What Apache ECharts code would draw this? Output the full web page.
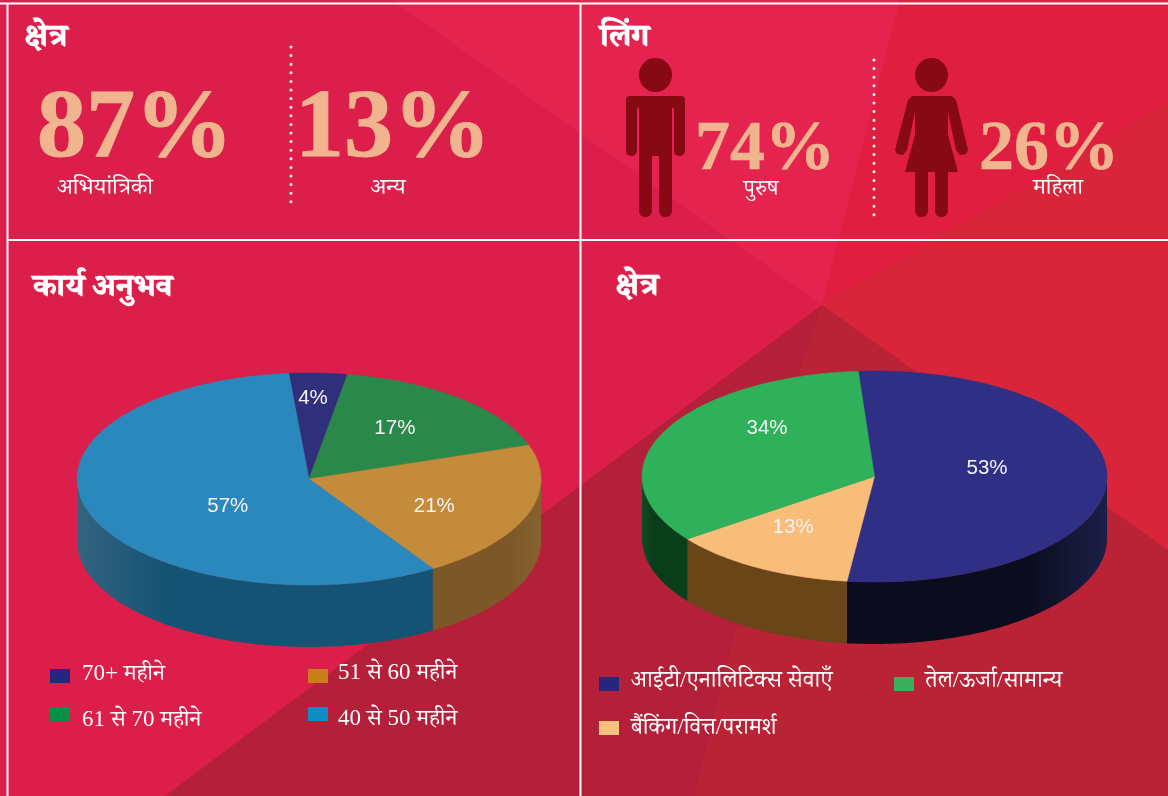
<!DOCTYPE html>
<html>
<head>
<meta charset="utf-8">
<style>html,body{margin:0;padding:0;background:#dc1f4a}#main{width:1168px;height:796px}</style>
<script src="https://cdn.jsdelivr.net/npm/echarts@6/dist/echarts.min.js"></script>
</head>
<body>
<div id="main"></div>
<script>
// chart values
const workLabels = ["70+ महीने", "61 से 70 महीने", "51 से 60 महीने", "40 से 50 महीने"];
const workValues = [4, 17, 21, 57];
const sectorLabels = ["आईटी/एनालिटिक्स सेवाएँ", "बैंकिंग/वित्त/परामर्श", "तेल/ऊर्जा/सामान्य"];
const sectorValues = [53, 13, 34];
const fieldLabels = ["अभियांत्रिकी", "अन्य"];
const fieldValues = [87, 13];
const genderLabels = ["पुरुष", "महिला"];
const genderValues = [74, 26];

// styles
const workTop = ["#2f2f7c", "#2a884a", "#c48b3a", "#2a88bc"];
const workSide = ["#23235c", "#1b5a30", "#7c5829", "#155374"];
const workSideEdge = ["#23235c", "#1b5a30", "#86622f", "#33637f"];
const workLegend = ["#27267e", "#079147", "#cb7f1a", "#0a8ec3"];
const sectorTop = ["#2e2f85", "#f8bd78", "#2fb05a"];
const sectorSide = ["#0b0d1e", "#6a4518", "#0a3d1a"];
const sectorSideEdge = ["#1c1f48", "#6a4518", "#0f4a22"];
const sectorLegend = ["#27267e", "#f6c27e", "#3aae5c"];
const SERIF = '"Liberation Serif","Noto Serif Devanagari","Noto Sans Devanagari","Noto Sans","DejaVu Serif",serif';
const ICON = "#860914";
const PEACH = "#f0b48f";

function ellipsePt(p, deg, f) {
  const a = deg * Math.PI / 180;
  return [p.cx + p.rx * f * Math.sin(a), p.cy - p.ry * f * Math.cos(a)];
}

// flat looking 3d pie: side wall + top face per slice
function pieSeries(name, values, p) {
  const total = values.reduce((a, b) => a + b, 0);
  return {
    type: "custom",
    name: name,
    coordinateSystem: "none",
    animation: false,
    silent: true,
    data: values,
    renderItem: function (params, api) {
      const i = params.dataIndex;
      let before = 0;
      for (let k = 0; k < i; k++) before += values[k];
      const a0 = p.start + before / total * 360;
      const a1 = a0 + values[i] / total * 360;
      const children = [];
      const from = Math.max(a0, 90), to = Math.min(a1, 270);
      if (to > from) {
        const upper = [], lower = [];
        for (let d = from; d <= to; d += 1) {
          const q = ellipsePt(p, d, 1);
          upper.push(q);
          lower.unshift([q[0], q[1] + p.depth]);
        }
        const e = ellipsePt(p, to, 1);
        upper.push(e);
        lower.unshift([e[0], e[1] + p.depth]);
        const edgeLeft = to >= 270;
        children.push({
          type: "polygon",
          shape: { points: upper.concat(lower) },
          style: {
            fill: new echarts.graphic.LinearGradient(0, 0, 1, 0, edgeLeft
              ? [{ offset: 0, color: p.sideEdge[i] }, { offset: 0.25, color: p.side[i] }, { offset: 1, color: p.side[i] }]
              : [{ offset: 0, color: p.side[i] }, { offset: 0.7, color: p.side[i] }, { offset: 1, color: p.sideEdge[i] }])
          }
        });
      }
      const pts = [[p.cx, p.cy]];
      for (let d = a0; d < a1; d += 1) pts.push(ellipsePt(p, d, 1));
      pts.push(ellipsePt(p, a1, 1));
      children.push({
        type: "polygon",
        shape: { points: pts },
        style: { fill: p.top[i], stroke: p.top[i], lineWidth: 0.5 }
      });
      children.push({
        type: "text",
        x: p.cx + p.rx * p.labelAt[i][0],
        y: p.cy + p.ry * p.labelAt[i][1],
        style: {
          text: values[i] + "%",
          fill: "#f6f4f6",
          font: '20.5px "Liberation Sans",Arial,sans-serif',
          align: "center",
          verticalAlign: "middle"
        }
      });
      return { type: "group", children: children };
    }
  };
}

function txt(x, y, text, size, opt) {
  opt = opt || {};
  return {
    type: "text", x: x, y: y, z: 5,
    style: {
      text: text,
      fill: opt.fill || "#fff",
      stroke: opt.heavy ? (opt.fill || "#fff") : null,
      lineWidth: opt.heavy || 0,
      font: (opt.bold ? "bold " : "") + size + "px " + SERIF,
      align: opt.align || "left",
      verticalAlign: "middle"
    }
  };
}
function poly(points, fill, z) {
  return { type: "polygon", z: z || 0, shape: { points: points }, style: { fill: fill } };
}
function rr(x, y, w, h, r, fill) {
  return { type: "rect", z: 4, shape: { x: x, y: y, width: w, height: h, r: r }, style: { fill: fill } };
}
function hline(x1, y1, x2, y2) {
  return { type: "line", z: 2, shape: { x1: x1, y1: y1, x2: x2, y2: y2 }, style: { stroke: "#fff", lineWidth: 2 } };
}
function dots(x, y1, y2) {
  return {
    type: "line", z: 3, shape: { x1: x, y1: y1, x2: x, y2: y2 },
    style: { stroke: "#fff", lineWidth: 3, lineCap: "round", lineDash: [0, 8.6] }
  };
}
function swatch(x, y, c) {
  return { type: "rect", z: 4, shape: { x: x, y: y, width: 20, height: 14 }, style: { fill: c } };
}

const background = [
  poly([[0, 0], [1168, 0], [1168, 796], [0, 796]], "#dc1f4a"),
  poly([[392, 0], [900, 0], [822, 305]], "#e4234f"),
  poly([[900, 0], [1168, 0], [1168, 103], [822, 305]], "#e01f40"),
  poly([[1168, 103], [1168, 550], [822, 305]], "#d9253a"),
  poly([[822, 305], [165, 796], [695, 796], [803, 360]], "#b42039", 1),
  poly([[822, 305], [1168, 550], [1168, 796], [695, 796], [803, 360]], "#b92335", 1)
];

const frame = [
  hline(0, 3.5, 1168, 3.5),
  hline(7.5, 3, 7.5, 796),
  hline(580.5, 3, 580.5, 796),
  hline(7, 240, 1168, 240),
  dots(291, 47, 203),
  dots(874, 60, 216)
];

const man = [
  { type: "ellipse", z: 4, shape: { cx: 655.5, cy: 75, rx: 16.5, ry: 17 }, style: { fill: ICON } },
  rr(626, 96, 59, 12, [4, 4, 0, 0], ICON),
  rr(626, 100, 11, 56, [0, 0, 5, 5], ICON),
  rr(674, 100, 11, 56, [0, 0, 5, 5], ICON),
  rr(639, 100, 33, 56, 0, ICON),
  rr(639, 150, 13, 67, [0, 0, 6, 6], ICON),
  rr(659, 150, 13, 67, [0, 0, 6, 6], ICON)
];
const woman = [
  { type: "ellipse", z: 4, shape: { cx: 931.5, cy: 75, rx: 16.5, ry: 17 }, style: { fill: ICON } },
  poly([[912, 96], [952, 96], [956, 100], [968, 150], [966, 154], [960, 155], [956, 150], [948, 112], [948, 135],
        [958, 172], [905, 172], [915, 135], [915, 112], [907, 150], [903, 155], [897, 154], [895, 150], [908, 100]], ICON, 4),
  rr(915, 165, 13, 52, [0, 0, 6, 6], ICON),
  rr(935, 165, 13, 52, [0, 0, 6, 6], ICON)
];

const texts = [
  txt(24, 38, "क्षेत्र", 32, { bold: true, heavy: 0.6 }),
  txt(600, 38, "लिंग", 32, { bold: true, heavy: 0.6 }),
  txt(33, 288, "कार्य अनुभव", 32, { bold: true, heavy: 0.6 }),
  txt(615, 287, "क्षेत्र", 32, { bold: true, heavy: 0.6 }),
  txt(135, 131, fieldValues[0] + "%", 98, { bold: true, fill: PEACH, heavy: 1, align: "center" }),
  txt(393, 131, fieldValues[1] + "%", 98, { bold: true, fill: PEACH, heavy: 1, align: "center" }),
  txt(765, 151, genderValues[0] + "%", 70, { bold: true, fill: PEACH, heavy: 0.6, align: "center" }),
  txt(1049, 151, genderValues[1] + "%", 70, { bold: true, fill: PEACH, heavy: 0.6, align: "center" }),
  txt(105, 188, fieldLabels[0], 23, { align: "center" }),
  txt(388, 188, fieldLabels[1], 23, { align: "center" }),
  txt(761, 189, genderLabels[0], 22, { align: "center" }),
  txt(1058, 188, genderLabels[1], 23, { align: "center" })
];

const legendAnchors = [[50, 669, 82, 674], [50, 707, 82, 720], [308, 669, 338, 673], [308, 707, 338, 719]];
const sectorAnchors = [[599, 677, 631, 681], [599, 721, 631, 728], [894, 677, 925, 681]];
const legends = [];
workLabels.forEach(function (l, i) {
  const a = legendAnchors[i];
  legends.push(swatch(a[0], a[1], workLegend[i]), txt(a[2], a[3], l, 23));
});
sectorLabels.forEach(function (l, i) {
  const a = sectorAnchors[i];
  legends.push(swatch(a[0], a[1], sectorLegend[i]), txt(a[2], a[3], l, 23.3));
});

const chart = echarts.init(document.getElementById("main"), null, { renderer: "canvas" });
chart.setOption({
  animation: false,
  graphic: { elements: background.concat(frame, man, woman, texts, legends) },
  series: [
    pieSeries("work", workValues, {
      cx: 309, cy: 479, rx: 232, ry: 106, depth: 62, start: -5,
      top: workTop, side: workSide, sideEdge: workSideEdge,
      labelAt: [[0.017, -0.764], [0.37, -0.48], [0.54, 0.255], [-0.35, 0.255]]
    }),
    pieSeries("sector", sectorValues, {
      cx: 874.5, cy: 476.5, rx: 232.5, ry: 105.5, depth: 62, start: -4,
      top: sectorTop, side: sectorSide, sideEdge: sectorSideEdge,
      labelAt: [[0.484, -0.08], [-0.35, 0.479], [-0.462, -0.46]]
    })
  ]
});
</script>
</body>
</html>
